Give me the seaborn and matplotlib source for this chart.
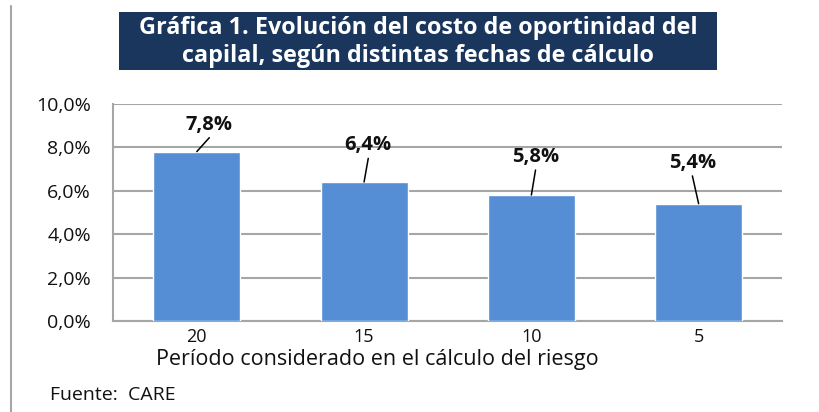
import matplotlib
matplotlib.use('Agg')
import matplotlib.pyplot as plt
import seaborn as sns
import pandas as pd
from matplotlib.patches import Rectangle
from matplotlib.lines import Line2D

# data
periods = ['20', '15', '10', '5']
costs = [7.8, 6.4, 5.8, 5.4]
labels = ['7,8%', '6,4%', '5,8%', '5,4%']
# label offsets (points) from bar top
offsets = [(9, 19.5), (3, 26.5), (3, 27.5), (-4.5, 29.5)]

title = 'Gráfica 1. Evolución del costo de oportinidad del\ncapilal, según distintas fechas de cálculo'
xlabel = 'Período considerado en el cálculo del riesgo'
source = 'Fuente:  CARE'

sns.set_theme(style='white')
plt.rcParams['font.family'] = ['Open Sans', 'DejaVu Sans']

df = pd.DataFrame({'periodo': periods, 'costo': costs})

fig = plt.figure(figsize=(8.2, 4.12), dpi=100)
ax = fig.add_axes([0.138, 0.221, 0.816, 0.527])
sns.barplot(data=df, x='periodo', y='costo', color='#558ed5', width=0.52,
            saturation=1, ax=ax, zorder=3)
ax.set_ylim(0, 10)
ax.set_xlim(-0.5, 3.5)
ax.set_yticks([0, 2, 4, 6, 8, 10])
ax.set_yticklabels([f'{t:.1f}%'.replace('.', ',') for t in [0, 2, 4, 6, 8, 10]])
ax.yaxis.grid(True, color='#a6a6a6', linewidth=1.5)
ax.set_axisbelow(True)
for s in ['top', 'right']:
    ax.spines[s].set_visible(False)
for s in ['left', 'bottom']:
    ax.spines[s].set_color('#a6a6a6')
    ax.spines[s].set_linewidth(1.5)
ax.tick_params(axis='y', length=0, labelsize=14, colors='#111111', pad=16)
ax.tick_params(axis='x', length=0, labelsize=13, colors='#111111', pad=5)
ax.set_xlabel('')
ax.set_ylabel('')

for i, (v, lab, off) in enumerate(zip(costs, labels, offsets)):
    ax.annotate(lab, xy=(i, v), xytext=off, textcoords='offset points',
                ha='center', va='center', fontsize=14.5, fontweight='bold', color='#111111',
                zorder=5)
    # leader line, stopping short of the label
    ax.annotate('', xy=(i, v), xytext=(off[0], off[1] - 9.5), textcoords='offset points',
                arrowprops=dict(arrowstyle='-', color='black', lw=1.1, shrinkA=0, shrinkB=0),
                zorder=5)

# title box
fig.patches.append(Rectangle((119 / 820, 1 - 70 / 412), (717 - 119) / 820, 58 / 412,
                             transform=fig.transFigure, facecolor='#1b365d', edgecolor='none'))
fig.text(418 / 820, 1 - 42 / 412, title, ha='center', va='center', color='white',
         fontsize=16.8, fontweight='bold', linespacing=1.2)

fig.text(377 / 820, 1 - 360 / 412, xlabel, ha='center', va='center', fontsize=15.5, color='#111111')
fig.text(50 / 820, 1 - 395 / 412, source, ha='left', va='center', fontsize=14, color='#111111')

# left frame line
fig.lines.append(Line2D([11 / 820, 11 / 820], [0, 1 - 6 / 412], transform=fig.transFigure,
                        color='#a6a6a6', linewidth=1.5))

fig.savefig('out.png', dpi=100)
